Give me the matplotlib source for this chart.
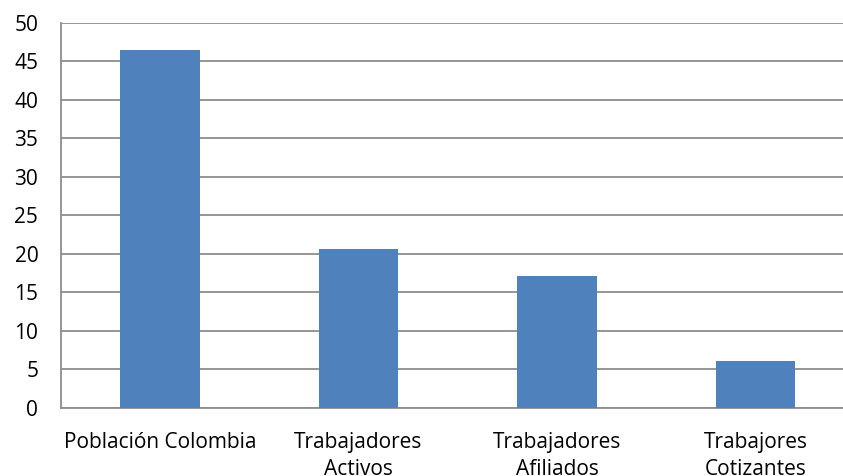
import matplotlib.pyplot as plt
import numpy as np

categorias = ["Población Colombia", "Trabajadores\nActivos",
              "Trabajadores\nAfiliados", "Trabajores\nCotizantes"]
valores = [46.5, 20.6, 17.2, 6.1]
yticks = [0, 5, 10, 15, 20, 25, 30, 35, 40, 45, 50]

plt.rcParams['font.family'] = ['Open Sans', 'DejaVu Sans']

fig = plt.figure(figsize=(8.43, 4.76), dpi=100)
# the plot area runs a little past the right edge of the figure
ax = fig.add_axes([0.0718, 0.1429, 0.9425, 0.809])

x = np.arange(len(categorias))
ax.bar(x, valores, width=0.40, color="#4f81bd", zorder=3)

ax.set_ylim(0, 50)
ax.set_xlim(-0.5, len(categorias) - 0.5)
ax.set_yticks(yticks)
ax.set_xticks(x)
ax.set_xticklabels(categorias, fontsize=15, linespacing=1.38)
ax.tick_params(axis='y', labelsize=15, length=0, pad=16)
ax.tick_params(axis='x', length=0, pad=17)

ax.grid(axis='y', color="#8c8c8c", lw=1.3, zorder=0)
for s in ['top', 'right']:
    ax.spines[s].set_visible(False)
for s in ['left', 'bottom']:
    ax.spines[s].set_color("#8c8c8c")
    ax.spines[s].set_linewidth(1.3)

fig.savefig("out.png", dpi=100)
